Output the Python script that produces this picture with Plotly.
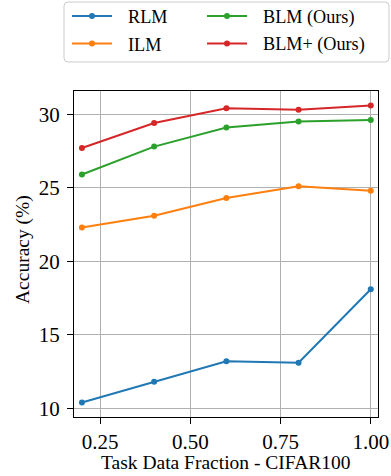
import plotly.graph_objects as go

fractions = [0.2, 0.4, 0.6, 0.8, 1.0]
rlm = [10.4, 11.8, 13.2, 13.1, 18.1]
ilm = [22.3, 23.1, 24.3, 25.1, 24.8]
blm = [25.9, 27.8, 29.1, 29.5, 29.6]
blm_plus = [27.7, 29.4, 30.4, 30.3, 30.6]
x_ticks = [0.25, 0.5, 0.75, 1.0]
x_tick_labels = ["0.25", "0.50", "0.75", "1.00"]
y_ticks = [10, 15, 20, 25, 30]

FONT = '"Liberation Serif", "Times New Roman", Times, serif'
FS_TICK = 21
FS_TITLE = 19.5
FS_LEG = 18.2
W, H = 391, 476
ML, MR, MT, MB = 74, 13, 91, 59
PW, PH = W - ML - MR, H - MT - MB


def px_x(p):
    return (p - ML) / PW


def px_y(p):
    return (H - MB - p) / PH


# (name, values, colour, legend entry x px, legend entry y px)
series = [
    ("RLM", rlm, "#1f77b4", 72, 16),
    ("ILM", ilm, "#ff7f0e", 72, 43.5),
    ("BLM (Ours)", blm, "#2ca02c", 207, 16),
    ("BLM+ (Ours)", blm_plus, "#d62728", 207, 43.5),
]

fig = go.Figure()
shapes = []
annotations = []

# legend frame (rounded, like matplotlib)
x0, x1, y0, y1, r = 64, 389, 2, 62, 4
path = (
    f"M {px_x(x0 + r)} {px_y(y0)} L {px_x(x1 - r)} {px_y(y0)} "
    f"Q {px_x(x1)} {px_y(y0)} {px_x(x1)} {px_y(y0 + r)} "
    f"L {px_x(x1)} {px_y(y1 - r)} "
    f"Q {px_x(x1)} {px_y(y1)} {px_x(x1 - r)} {px_y(y1)} "
    f"L {px_x(x0 + r)} {px_y(y1)} "
    f"Q {px_x(x0)} {px_y(y1)} {px_x(x0)} {px_y(y1 - r)} "
    f"L {px_x(x0)} {px_y(y0 + r)} "
    f"Q {px_x(x0)} {px_y(y0)} {px_x(x0 + r)} {px_y(y0)} Z"
)
shapes.append(dict(type="path", path=path, xref="paper", yref="paper",
                   line=dict(color="#cccccc", width=1),
                   fillcolor="rgba(0,0,0,0)", layer="above"))

for name, vals, color, lx, ly in series:
    fig.add_trace(go.Scatter(
        x=fractions, y=vals, mode="lines+markers", name=name,
        line=dict(color=color, width=2), marker=dict(color=color, size=6),
        showlegend=False,
    ))
    # legend key: line + dot
    shapes.append(dict(type="line", xref="paper", yref="paper",
                       x0=px_x(lx), x1=px_x(lx + 40), y0=px_y(ly), y1=px_y(ly),
                       line=dict(color=color, width=2)))
    shapes.append(dict(type="circle", xref="paper", yref="paper",
                       x0=px_x(lx + 17), x1=px_x(lx + 23),
                       y0=px_y(ly + 3), y1=px_y(ly - 3),
                       line=dict(color=color, width=0), fillcolor=color))
    annotations.append(dict(text=name, xref="paper", yref="paper",
                            x=px_x(lx + 54), y=px_y(ly + 1),
                            xanchor="left", yanchor="middle", showarrow=False,
                            font=dict(family=FONT, size=FS_LEG, color="black")))

annotations += [
    dict(text="Task Data Fraction - CIFAR100", xref="paper", yref="paper",
         x=px_x(226), y=px_y(462), xanchor="center", yanchor="middle",
         showarrow=False, font=dict(family=FONT, size=FS_TITLE, color="black")),
    dict(text="Accuracy (%)", xref="paper", yref="paper",
         x=px_x(23), y=px_y(250), xanchor="center", yanchor="middle",
         textangle=-90, showarrow=False,
         font=dict(family=FONT, size=FS_TITLE, color="black")),
]

axis_common = dict(
    showline=True, linecolor="black", linewidth=1, mirror=True,
    ticks="outside", ticklen=6, tickcolor="black", tickwidth=1,
    showgrid=True, gridcolor="#b0b0b0", gridwidth=1, zeroline=False,
    tickfont=dict(family=FONT, size=FS_TICK, color="black"),
    automargin=False,
)

fig.update_layout(
    width=W, height=H,
    margin=dict(l=ML, r=MR, t=MT, b=MB, autoexpand=False),
    plot_bgcolor="white", paper_bgcolor="white",
    font=dict(family=FONT, size=FS_TICK, color="black"),
    showlegend=False,
    xaxis=dict(range=[0.178, 1.02], tickvals=x_ticks, ticktext=x_tick_labels,
               **axis_common),
    yaxis=dict(range=[9.41, 31.58], tickvals=y_ticks, ticklabelstandoff=3,
               **axis_common),
    shapes=shapes,
    annotations=annotations,
)

fig.write_html("out.html", post_script="document.body.style.margin='0';",
               config={"displayModeBar": False})
